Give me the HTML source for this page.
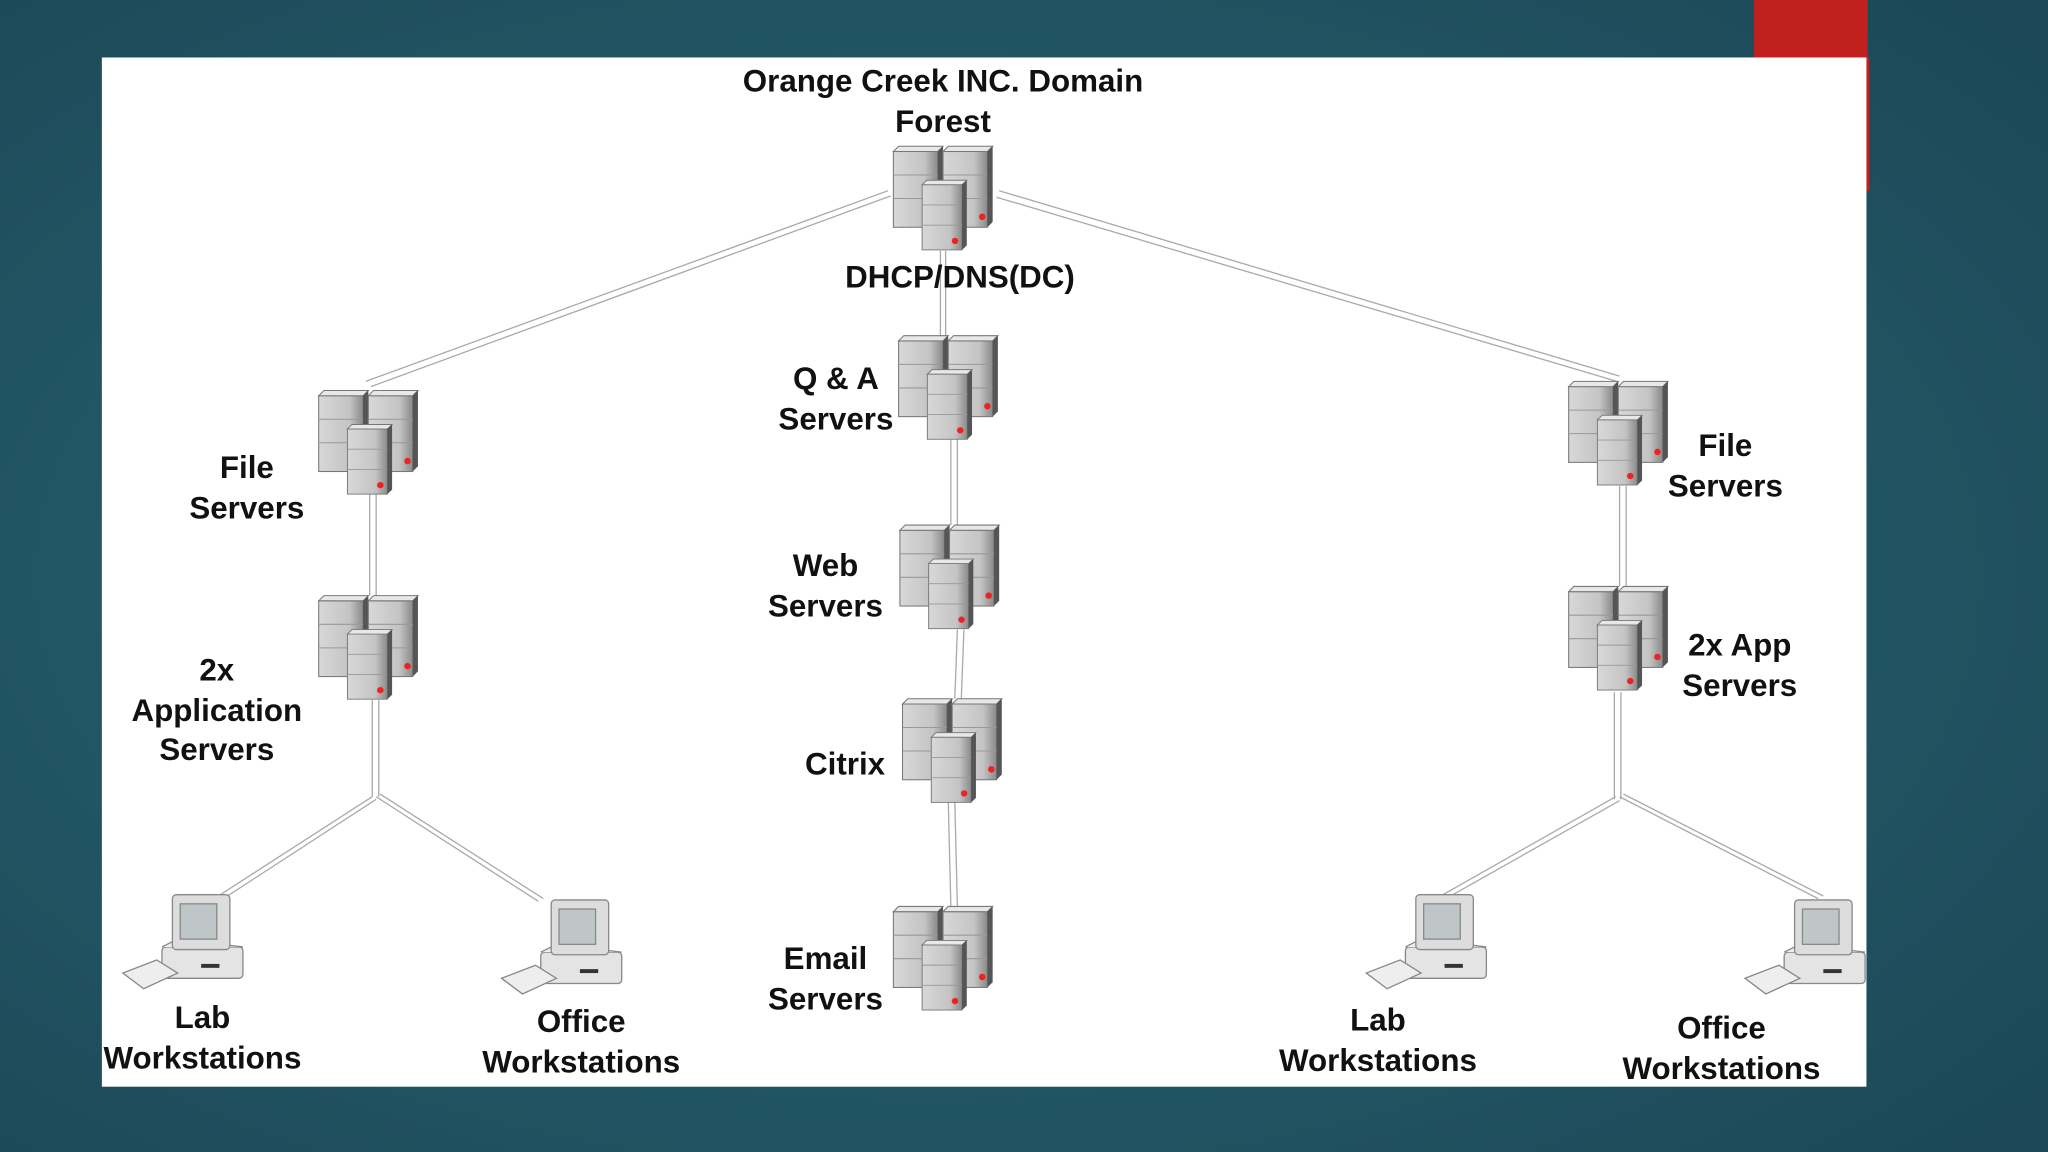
<!DOCTYPE html>
<html><head><meta charset="utf-8"><style>
html,body{margin:0;padding:0;width:2048px;height:1152px;overflow:hidden}
svg{display:block}
text{font-family:"Liberation Sans",sans-serif;font-weight:bold;font-size:24px;fill:#111;text-anchor:middle}
</style></head><body>
<svg width="2048" height="1152" viewBox="0 0 1568 882" xmlns="http://www.w3.org/2000/svg">
<defs>
<radialGradient id="bg" cx="0.45" cy="0.5" r="0.8">
<stop offset="0" stop-color="#2b6a78"/><stop offset="1" stop-color="#1a4453"/>
</radialGradient>
<linearGradient id="box" x1="0" x2="1"><stop offset="0" stop-color="#d8d8d8"/><stop offset="0.7" stop-color="#c4c4c4"/><stop offset="1" stop-color="#8a8a8a"/></linearGradient>
<g id="srv1">
<rect x="0" y="4" width="34" height="58" fill="url(#box)" stroke="#777" stroke-width="0.8"/>
<path d="M0 4 L4 0 L38 0 L34 4Z" fill="#e8e8e8" stroke="#777" stroke-width="0.8"/>
<path d="M34 4 L38 0 L38 58 L34 62Z" fill="#555"/>
<line x1="0" y1="22" x2="34" y2="22" stroke="#999" stroke-width="0.8"/>
<line x1="0" y1="40" x2="34" y2="40" stroke="#999" stroke-width="0.8"/>
</g>
<g id="cl">
<use href="#srv1" x="0" y="0"/>
<use href="#srv1" x="38" y="0"/>
<circle cx="31" cy="52" r="2.5" fill="#e22"/>
<circle cx="68" cy="54" r="2.5" fill="#e22"/>
<g transform="translate(22,26) scale(0.9,0.86)"><use href="#srv1"/><circle cx="28" cy="54" r="2.8" fill="#e22"/></g>
</g>
<g id="ws">
<rect x="32" y="42" width="62" height="24" rx="3" fill="#e4e4e4" stroke="#888"/>
<path d="M32 42 L44 36 L94 42" fill="#eee" stroke="#888"/>
<rect x="40" y="2" width="44" height="42" rx="3" fill="#ddd" stroke="#888"/>
<rect x="46" y="9" width="28" height="27" fill="#bfc6c8" stroke="#888"/>
<rect x="62" y="55" width="14" height="3" fill="#333"/>
<path d="M2 62 L28 52 L44 62 L18 74Z" fill="#eee" stroke="#888"/>
</g>
</defs>
<rect width="1568" height="882" fill="url(#bg)"/>
<rect x="1343" y="0" width="87" height="44" fill="#c0201e"/>
<rect x="1428" y="44" width="3" height="102" fill="#c0201e"/>
<rect x="78" y="44" width="1351" height="788" fill="#fff"/>
<g stroke="#aaa" stroke-width="1" fill="none">
<path d="M680 146 L280 292 M682 150 L284 296"/>
<path d="M765 146 L1240 288 M763 151 L1238 292"/>
<path d="M720 192 V257 M724 192 V257"/>
<path d="M728 336 V402 M733 336 V402"/>
<path d="M733 482 L731 535 M738 482 L736 535"/>
<path d="M726 613 L728 694 M731 613 L733 694"/>
<path d="M283 378 V456 M288 378 V456"/>
<path d="M285 536 V610 M290 536 V610"/>
<path d="M285 610 L164 688 M288 612 L168 690"/>
<path d="M288 610 L412 690 M291 608 L416 688"/>
<path d="M1240 372 V449 M1245 372 V449"/>
<path d="M1236 530 V612 M1241 530 V612"/>
<path d="M1237 610 L1103 686 M1240 613 L1107 688"/>
<path d="M1240 610 L1392 688 M1243 608 L1396 686"/>
</g>
<use href="#cl" x="684" y="112"/>
<use href="#cl" x="688" y="257"/>
<use href="#cl" x="689" y="402"/>
<use href="#cl" x="691" y="535"/>
<use href="#cl" x="684" y="694"/>
<use href="#cl" x="244" y="299"/>
<use href="#cl" x="244" y="456"/>
<use href="#cl" x="1201" y="292"/>
<use href="#cl" x="1201" y="449"/>
<use href="#ws" x="92" y="683"/>
<use href="#ws" x="382" y="687"/>
<use href="#ws" x="1044" y="683"/>
<use href="#ws" x="1334" y="687"/>
<text x="722" y="70">Orange Creek INC.  Domain</text>
<text x="722" y="101">Forest</text>
<text x="735" y="220">DHCP/DNS(DC)</text>
<text x="640" y="298">Q &amp; A</text>
<text x="640" y="329">Servers</text>
<text x="632" y="441">Web</text>
<text x="632" y="472">Servers</text>
<text x="647" y="593">Citrix</text>
<text x="632" y="742">Email</text>
<text x="632" y="773">Servers</text>
<text x="189" y="366">File</text>
<text x="189" y="397">Servers</text>
<text x="166" y="521">2x</text>
<text x="166" y="552">Application</text>
<text x="166" y="582">Servers</text>
<text x="1321" y="349">File</text>
<text x="1321" y="380">Servers</text>
<text x="1332" y="502">2x App</text>
<text x="1332" y="533">Servers</text>
<text x="155" y="787">Lab</text>
<text x="155" y="818">Workstations</text>
<text x="445" y="790">Office</text>
<text x="445" y="821">Workstations</text>
<text x="1055" y="789">Lab</text>
<text x="1055" y="820">Workstations</text>
<text x="1318" y="795">Office</text>
<text x="1318" y="826">Workstations</text>
</svg>
</body></html>
